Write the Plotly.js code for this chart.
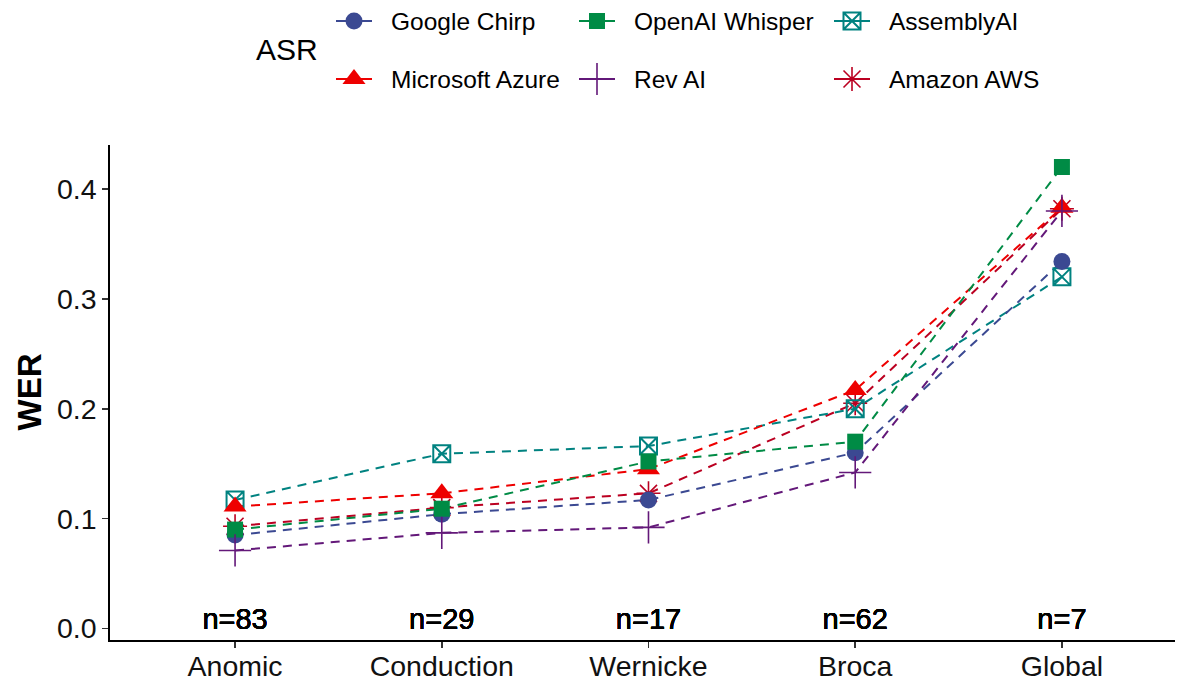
<!DOCTYPE html>
<html>
<head>
<meta charset="utf-8">
<script src="https://cdn.plot.ly/plotly-3.0.1.min.js"></script>
<style>html,body{margin:0;padding:0;background:#fff;}#chart{width:1179px;height:683px;}</style>
</head>
<body>
<div id="chart"></div>
<script>
// ---- data ----
const categories = ["Anomic", "Conduction", "Wernicke", "Broca", "Global"];
const nLabels = ["n=83", "n=29", "n=17", "n=62", "n=7"];
const googleChirp    = [0.085, 0.104, 0.117, 0.160, 0.334];
const microsoftAzure = [0.111, 0.123, 0.145, 0.217, 0.383];
const openaiWhisper  = [0.090, 0.109, 0.152, 0.170, 0.420];
const revAI          = [0.071, 0.087, 0.092, 0.142, 0.380];
const assemblyAI     = [0.117, 0.159, 0.166, 0.200, 0.320];
const amazonAWS      = [0.093, 0.110, 0.123, 0.205, 0.382];
const yTicks = [0.0, 0.1, 0.2, 0.3, 0.4];

// ---- styles ----
const FONT = "Liberation Sans, Arial, Helvetica, sans-serif";
const series = [
  // drawing order (alphabetical, as in the reference)
  {name: "Amazon AWS",      y: amazonAWS,      color: "#BB0021", symbol: "asterisk-open",   size: 20, lw: 1.6, col: 2, row: 1},
  {name: "AssemblyAI",      y: assemblyAI,     color: "#008280", symbol: "square-x-open",   size: 17, lw: 2,   col: 2, row: 0},
  {name: "Google Chirp",    y: googleChirp,    color: "#3B4992", symbol: "circle",          size: 17, lw: 0,   col: 0, row: 0},
  {name: "Microsoft Azure", y: microsoftAzure, color: "#EE0000", symbol: "triangle-up",     size: 20, lw: 0,   col: 0, row: 1},
  {name: "OpenAI Whisper",  y: openaiWhisper,  color: "#008B45", symbol: "square",          size: 16, lw: 0,   col: 1, row: 0},
  {name: "Rev AI",          y: revAI,          color: "#631879", symbol: "cross-thin-open", size: 23, lw: 1.6, col: 1, row: 1}
];

function markerOf(s) {
  return {symbol: s.symbol, size: s.size, color: s.color,
          line: {color: s.color, width: s.lw}};
}

const traces = [];
// lines first
series.forEach(s => traces.push({
  type: "scatter", mode: "lines", x: categories, y: s.y,
  line: {color: s.color, width: 2, dash: "9px,7px"},
  hoverinfo: "skip", showlegend: false, xaxis: "x", yaxis: "y"
}));
// points on top
series.forEach(s => traces.push({
  type: "scatter", mode: "markers", x: categories, y: s.y, name: s.name,
  marker: markerOf(s), showlegend: false, cliponaxis: false, xaxis: "x", yaxis: "y"
}));
// n labels (drawn once per series, as in the reference)
series.forEach(() => traces.push({
  type: "scatter", mode: "text", x: categories, y: categories.map(() => 0.006),
  text: nLabels, textposition: "middle center",
  textfont: {family: FONT, size: 29, color: "#000"},
  hoverinfo: "skip", showlegend: false, cliponaxis: false, xaxis: "x", yaxis: "y"
}));

// ---- manual legend (pixel-mapped helper axes) ----
const legColX = [354, 597, 852];
const legRowY = [21, 79];
const annotations = [];
series.forEach(s => {
  const cx = legColX[s.col], cy = legRowY[s.row];
  traces.push({type: "scatter", mode: "lines", x: [cx - 18, cx + 18], y: [cy, cy],
    line: {color: s.color, width: 2}, hoverinfo: "skip", showlegend: false,
    xaxis: "x2", yaxis: "y2", cliponaxis: false});
  traces.push({type: "scatter", mode: "markers", x: [cx], y: [cy],
    marker: markerOf(s), hoverinfo: "skip", showlegend: false,
    xaxis: "x2", yaxis: "y2", cliponaxis: false});
  annotations.push({xref: "x2", yref: "y2", x: cx + 35, y: cy, text: s.name,
    showarrow: false, xanchor: "left", yanchor: "middle",
    font: {family: FONT, size: 24.5, color: "#000"}});
});
annotations.push({xref: "x2", yref: "y2", x: 254, y: 49, text: "ASR",
  showarrow: false, xanchor: "left", yanchor: "middle",
  font: {family: FONT, size: 30, color: "#000"}});
annotations.push({xref: "paper", yref: "paper", x: 29 / 1179, y: 1 - 392.5 / 683,
  text: "<b>WER</b>", textangle: -90, showarrow: false,
  xanchor: "center", yanchor: "middle",
  font: {family: FONT, size: 33, color: "#000"}});

const axisCommon = {
  showline: true, linecolor: "#000", linewidth: 1.8, mirror: false,
  ticks: "outside", ticklen: 6, tickwidth: 1.8, tickcolor: "#333",
  showgrid: false, zeroline: false, automargin: false,
  tickfont: {family: FONT, size: 28.5, color: "#111"}
};

const layout = {
  width: 1179, height: 683,
  margin: {l: 0, r: 0, t: 0, b: 0, pad: 0},
  paper_bgcolor: "#fff", plot_bgcolor: "rgba(0,0,0,0)",
  showlegend: false,
  font: {family: FONT, color: "#000"},
  xaxis: Object.assign({}, axisCommon, {
    type: "category", domain: [110 / 1179, 1175 / 1179],
    range: [-0.605, 4.547], anchor: "y", ticklabelstandoff: -6
  }),
  yaxis: Object.assign({}, axisCommon, {
    domain: [43 / 683, 538 / 683], range: [-0.0105, 0.44], anchor: "x",
    tickmode: "array", tickvals: yTicks, tickformat: ".1f"
  }),
  xaxis2: {domain: [0, 1], range: [0, 1179], visible: false, anchor: "y2", fixedrange: true},
  yaxis2: {domain: [1 - 123 / 683, 1], range: [123, 0], visible: false, anchor: "x2", fixedrange: true},
  annotations: annotations
};

Plotly.newPlot("chart", traces, layout, {staticPlot: true, displayModeBar: false});
</script>
</body>
</html>
